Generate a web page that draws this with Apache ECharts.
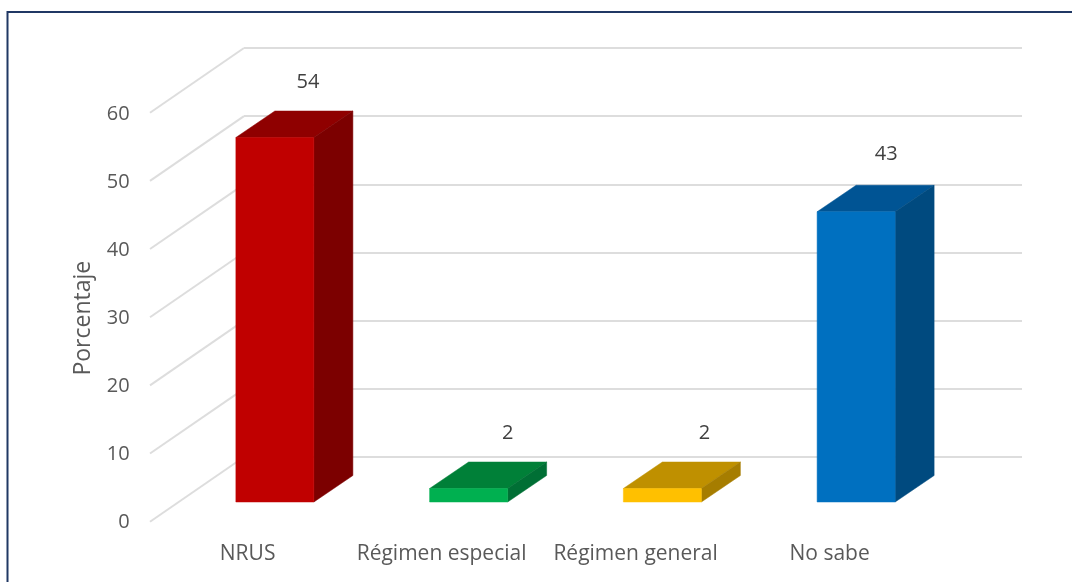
<!DOCTYPE html>
<html><head><meta charset="utf-8">
<style>html,body{margin:0;padding:0;background:#fff}#c{width:1072px;height:582px}</style>
<script src="https://cdn.jsdelivr.net/npm/echarts@6/dist/echarts.min.js"></script>
</head><body><div id="c"></div>
<script>
const categories = ['NRUS', 'Régimen especial', 'Régimen general', 'No sabe'];
const values = [54, 2, 2, 43];
const frontColors = ['#C00000', '#00B050', '#FFC000', '#0070C0'];
const topColors = ['#8F0000', '#008038', '#BF9000', '#005494'];
const sideColors = ['#7C0000', '#006F35', '#A67D00', '#004A7F'];
const wallTicks = [0, 10, 20, 30, 40, 50, 60];

const FONT = '"Open Sans"';
const DEPTH_X = 39, DEPTH_Y = 26.5;         // bar depth
const WALL_X = 94, WALL_Y = 64.7;           // side wall depth
const LABEL_DX = [33, 39, 42, 30];          // value label shift from bar centre
const LABEL_DY = [55.5, 55.5, 55.5, 57.5];  // value label lift above bar top

const chart = echarts.init(document.getElementById('c'), null, {renderer: 'canvas'});
const hiddenCat = i => ({type: 'category', gridIndex: i, data: categories, show: false});
chart.setOption({
  animation: false,
  backgroundColor: '#fff',
  graphic: [{
    type: 'polyline', silent: true,
    shape: {points: [[7.5, 582], [7.5, 12], [1072, 12]]},
    style: {stroke: '#203864', lineWidth: 2, fill: 'none'}
  }],
  grid: [
    {left: 150.6, top: 114.2, width: 776, height: 408}, // front plane: axis labels
    {left: 244, top: 48, width: 778, height: 409},      // back wall
    {left: 178, top: 97, width: 775, height: 405}       // bars
  ],
  xAxis: [
    {type: 'category', gridIndex: 0, data: categories,
     axisLine: {show: false}, axisTick: {show: false},
     axisLabel: {margin: 21.5, interval: 0, color: '#595959', fontFamily: FONT, fontSize: 21}},
    hiddenCat(1), hiddenCat(2)
  ],
  yAxis: [
    {type: 'value', gridIndex: 0, min: 0, max: 60, interval: 10,
     axisLine: {show: false}, axisTick: {show: false}, splitLine: {show: false},
     axisLabel: {margin: 21, padding: [4, 0, 0, 0], color: '#595959', fontFamily: FONT, fontSize: 20},
     name: 'Porcentaje', nameLocation: 'middle', nameGap: 56, nameRotate: 90,
     nameTextStyle: {color: '#595959', fontFamily: FONT, fontSize: 23}},
    {type: 'value', gridIndex: 1, min: 0, max: 60, interval: 10,
     axisLine: {show: false}, axisTick: {show: false}, axisLabel: {show: false},
     splitLine: {show: true, lineStyle: {color: '#DDDDDD', width: 2}}},
    {type: 'value', gridIndex: 2, min: 0, max: 60, show: false}
  ],
  series: [
    {
      type: 'custom', xAxisIndex: 1, yAxisIndex: 1, z: 1, silent: true, clip: false,
      data: wallTicks.map(v => [0, v]),
      renderItem(params, api) {
        const p = api.coord([0, api.value(1)]);
        const x1 = params.coordSys.x, y1 = p[1];
        return {type: 'line',
          shape: {x1: x1 - WALL_X, y1: y1 + WALL_Y, x2: x1, y2: y1},
          style: {stroke: '#DDDDDD', lineWidth: 2, fill: 'none'}};
      }
    },
    {
      type: 'custom', xAxisIndex: 2, yAxisIndex: 2, z: 3, silent: true, clip: false,
      data: values.map((v, i) => [i, v]),
      renderItem(params, api) {
        const i = api.value(0), v = api.value(1);
        const c = api.coord([i, v]), b = api.coord([i, 0]);
        const w = api.size([1, 0])[0] * 0.4026;
        const l = c[0] - w / 2, r = c[0] + w / 2, t = c[1], bt = b[1];
        const poly = (pts, fill) => ({type: 'polygon', shape: {points: pts},
          style: {fill, stroke: fill, lineWidth: 0.5}});
        return {type: 'group', children: [
          poly([[l, t], [r, t], [r + DEPTH_X, t - DEPTH_Y], [l + DEPTH_X, t - DEPTH_Y]], topColors[i]),
          poly([[r, t], [r + DEPTH_X, t - DEPTH_Y], [r + DEPTH_X, bt - DEPTH_Y], [r, bt]], sideColors[i]),
          poly([[l, t], [r, t], [r, bt], [l, bt]], frontColors[i]),
          {type: 'text', style: {text: String(v), x: c[0] + LABEL_DX[i], y: t - LABEL_DY[i],
            align: 'center', verticalAlign: 'middle',
            fill: '#404040', font: '20px ' + FONT}}
        ]};
      }
    }
  ]
});
</script></body></html>
